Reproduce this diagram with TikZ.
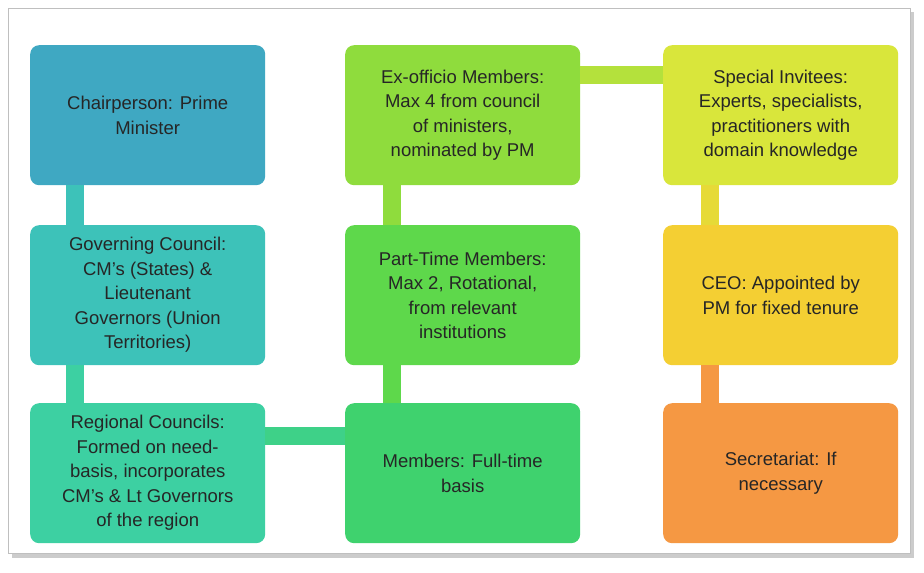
\documentclass[tikz,border=0pt]{standalone}
\usepackage{fontspec}
\setmainfont{Liberation Sans}
\begin{document}
\begin{tikzpicture}[x=1pt,y=-1pt,
 box/.style={rounded corners=9pt,minimum width=235pt,minimum height=140pt,align=center,font=\fontsize{18.5}{24.5}\selectfont,text=black!85,inner sep=0pt,anchor=north west},
 bar/.style={line width=18pt}]
\useasboundingbox (0,0) rectangle (924,573);
\fill[gray!40] (12,12) rectangle (914,558);
\fill[white,draw=gray!50] (8,8) rectangle (910,553);
\definecolor{c1}{HTML}{3FA8C2}\definecolor{c2}{HTML}{3DC2B9}\definecolor{c3}{HTML}{3DD0A2}
\definecolor{c4}{HTML}{3FD26E}\definecolor{c5}{HTML}{5ED84B}\definecolor{c6}{HTML}{8FDC3D}
\definecolor{c7}{HTML}{D9E63B}\definecolor{c8}{HTML}{F4CF33}\definecolor{c9}{HTML}{F59843}
\node[box,fill=c1] (a) at (30,45) {Chairperson: Prime\\Minister};
\node[box,fill=c2] (b) at (30,225) {Governing Council:\\CM's (States) \&\\Lieutenant\\Governors (Union\\Territories)};
\node[box,fill=c3] (c) at (30,403) {Regional Councils:\\Formed on need-\\basis, incorporates\\CM's \& Lt Governors\\of the region};
\node[box,fill=c4] (d) at (345,403) {Members: Full-time\\basis};
\node[box,fill=c5] (e) at (345,225) {Part-Time Members:\\Max 2, Rotational,\\from relevant\\institutions};
\node[box,fill=c6] (f) at (345,45) {Ex-officio Members:\\Max 4 from council\\of ministers,\\nominated by PM};
\node[box,fill=c7] (g) at (663,45) {Special Invitees:\\Experts, specialists,\\practitioners with\\domain knowledge};
\node[box,fill=c8] (h) at (663,225) {CEO: Appointed by\\PM for fixed tenure};
\node[box,fill=c9] (i) at (663,403) {Secretariat: If\\necessary};
\draw[bar,draw=c2] ([xshift=45pt]a.south west) -- ([xshift=45pt]b.north west);
\draw[bar,draw=c3] ([xshift=45pt]b.south west) -- ([xshift=45pt]c.north west);
\draw[bar,draw=c3!50!c4] ([yshift=-33pt]c.north east) -- ([yshift=-33pt]d.north west);
\draw[bar,draw=c5] ([xshift=47pt]d.north west) -- ([xshift=47pt]e.south west);
\draw[bar,draw=c6] ([xshift=47pt]e.north west) -- ([xshift=47pt]f.south west);
\draw[bar,draw=c6!50!c7] ([yshift=-30pt]f.north east) -- ([yshift=-30pt]g.north west);
\draw[bar,draw=c7!50!c8] ([xshift=47pt]h.north west) -- ([xshift=47pt]g.south west);
\draw[bar,draw=c9] ([xshift=47pt]h.south west) -- ([xshift=47pt]i.north west);
\end{tikzpicture}
\end{document}
